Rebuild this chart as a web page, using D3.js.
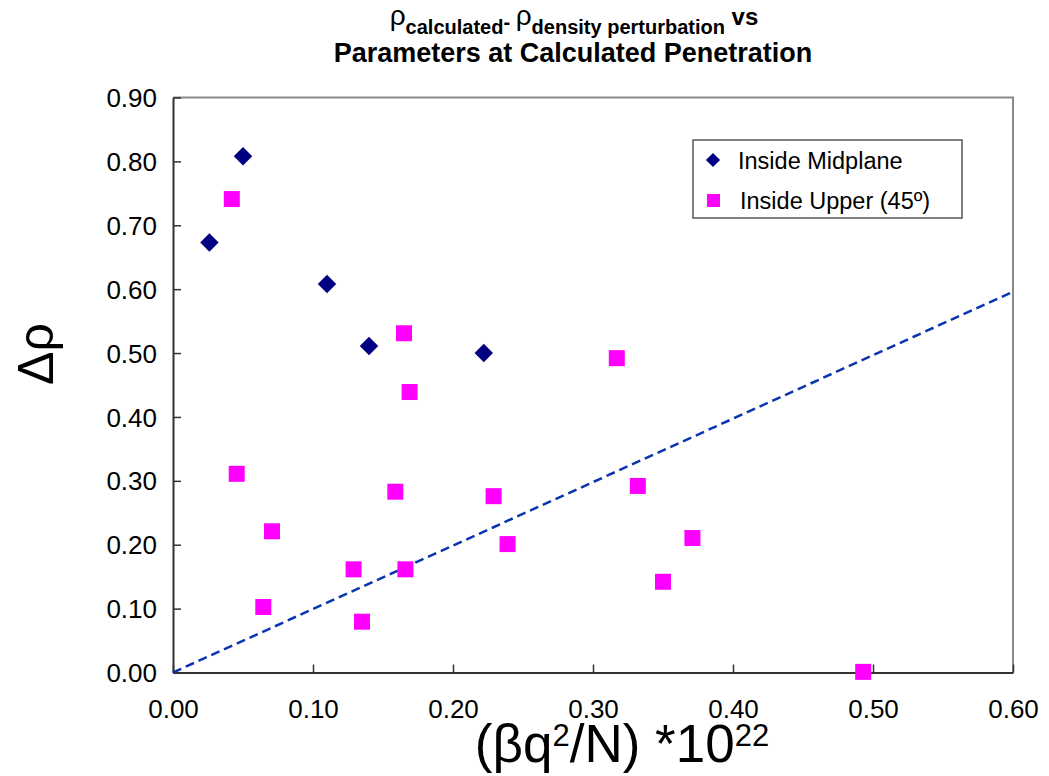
<!DOCTYPE html>
<html>
<head>
<meta charset="utf-8">
<script src="https://cdn.jsdelivr.net/npm/d3@7/dist/d3.min.js"></script>
<style>
  html, body { margin: 0; padding: 0; background: #fff; }
  svg { display: block; font-family: "Liberation Sans", Arial, Helvetica, sans-serif; }
</style>
</head>
<body>
<svg id="chart"></svg>
<script>
// Data
const midplaneX = [0.026, 0.050, 0.110, 0.140, 0.222];
const midplaneY = [0.673, 0.808, 0.608, 0.511, 0.500];

const upperX = [0.042, 0.0455, 0.0707, 0.0645, 0.129, 0.135, 0.1588, 0.165, 0.166, 0.169,
                0.229, 0.239, 0.317, 0.332, 0.350, 0.371, 0.493];
const upperY = [0.741, 0.311, 0.221, 0.1025, 0.1615, 0.0795, 0.283, 0.531, 0.1615, 0.439,
                0.276, 0.201, 0.492, 0.292, 0.142, 0.2105, 0.001];

// dashed reference line (end points)
const trendX = [0, 0.6];
const trendY = [0, 0.596];

const xTicks = [0, 0.1, 0.2, 0.3, 0.4, 0.5, 0.6];
const yTicks = [0, 0.1, 0.2, 0.3, 0.4, 0.5, 0.6, 0.7, 0.8, 0.9];

const seriesNames = ["Inside Midplane", "Inside Upper (45º)"];

const W = 1049, H = 776;
const margin = { left: 173, right: 36, top: 97.5, bottom: 103.5 };
const plotW = W - margin.left - margin.right;
const plotH = H - margin.top - margin.bottom;

const svg = d3.select("#chart").attr("width", W).attr("height", H);

const x = d3.scaleLinear().domain([0, 0.6]).range([0, plotW]);
const y = d3.scaleLinear().domain([0, 0.9]).range([plotH, 0]);

const g = svg.append("g").attr("transform", `translate(${margin.left},${margin.top})`);

// frame: top and right in grey, axes drawn on top later
g.append("path")
  .attr("d", `M0,0H${plotW}V${plotH}`)
  .attr("fill", "none")
  .attr("stroke", "#8a8a8a")
  .attr("stroke-width", 2);

// axes (ticks point inward)
const xAxis = d3.axisBottom(x).tickValues(xTicks).tickFormat(d3.format(".2f")).tickSizeInner(-8).tickSizeOuter(0).tickPadding(27);
const yAxis = d3.axisLeft(y).tickValues(yTicks).tickFormat(d3.format(".2f")).tickSizeInner(-8).tickSizeOuter(0).tickPadding(16);

const gx = g.append("g").attr("transform", `translate(0,${plotH})`).call(xAxis);
const gy = g.append("g").call(yAxis);

[gx, gy].forEach((ax) => {
  ax.select(".domain").attr("stroke", "#333").attr("stroke-width", 2);
  ax.selectAll(".tick line").attr("stroke", "#333").attr("stroke-width", 1.5);
  ax.selectAll(".tick text")
    .attr("fill", "#000")
    .style("font-size", "26px")
    .style("font-family", "'Liberation Sans', Arial, sans-serif");
});
gy.selectAll(".tick text").attr("dy", "0.35em");
gx.selectAll(".tick text").attr("dy", "0.71em");

// dashed line
const trend = trendX.map((v, i) => [v, trendY[i]]);
g.append("path")
  .datum(trend)
  .attr("d", d3.line().x((d) => x(d[0])).y((d) => y(d[1])))
  .attr("fill", "none")
  .attr("stroke", "#0a34b0")
  .attr("stroke-width", 2.5)
  .attr("stroke-dasharray", "9,5");

// markers
const diamond = d3.symbol().type(d3.symbolSquare).size(170);
const midplane = midplaneX.map((v, i) => ({ x: v, y: midplaneY[i] }));
const upper = upperX.map((v, i) => ({ x: v, y: upperY[i] }));

g.append("g")
  .selectAll("rect")
  .data(upper)
  .enter()
  .append("rect")
  .attr("x", (d) => x(d.x) - 8)
  .attr("y", (d) => y(d.y) - 8)
  .attr("width", 16)
  .attr("height", 16)
  .attr("fill", "#ff00ff");

g.append("g")
  .selectAll("path")
  .data(midplane)
  .enter()
  .append("path")
  .attr("d", diamond)
  .attr("transform", (d) => `translate(${x(d.x)},${y(d.y)}) rotate(45)`)
  .attr("fill", "#000080");

// legend
const lg = svg.append("g").attr("transform", "translate(693,140)");
lg.append("rect")
  .attr("width", 269)
  .attr("height", 78)
  .attr("fill", "#fff")
  .attr("stroke", "#555")
  .attr("stroke-width", 1.5);
lg.append("path")
  .attr("d", d3.symbol().type(d3.symbolSquare).size(100))
  .attr("transform", "translate(20,20) rotate(45)")
  .attr("fill", "#000080");
lg.append("rect")
  .attr("x", 14).attr("y", 54).attr("width", 13).attr("height", 13)
  .attr("fill", "#ff00ff");
lg.selectAll("text.leg")
  .data(seriesNames)
  .enter()
  .append("text")
  .attr("class", "leg")
  .attr("x", (d, i) => (i === 0 ? 45 : 47))
  .attr("y", (d, i) => (i === 0 ? 29 : 69))
  .style("font-size", "23.5px")
  .text((d) => d);

// title
const t1 = svg.append("text")
  .attr("x", 574)
  .attr("y", 25)
  .attr("text-anchor", "middle")
  .style("font-weight", "bold");
t1.append("tspan").style("font-size", "28px").style("font-weight", "normal").text("ρ");
t1.append("tspan").style("font-size", "20px").attr("dy", 9).text("calculated");
t1.append("tspan").style("font-size", "20px").attr("dy", -5).text("- ");
t1.append("tspan").style("font-size", "28px").style("font-weight", "normal").attr("dy", -4).text("ρ");
t1.append("tspan").style("font-size", "20px").attr("dy", 9).text("density perturbation");
t1.append("tspan").style("font-size", "24px").attr("dy", -9).text(" vs");

svg.append("text")
  .attr("x", 573)
  .attr("y", 62)
  .attr("text-anchor", "middle")
  .style("font-size", "27px")
  .style("font-weight", "bold")
  .text("Parameters at Calculated Penetration");

// axis titles
const xt = svg.append("text")
  .attr("x", 622)
  .attr("y", 762)
  .attr("text-anchor", "middle")
  .style("font-size", "53px");
xt.append("tspan").text("(βq");
xt.append("tspan").style("font-size", "31px").attr("dy", -16).text("2");
xt.append("tspan").attr("dy", 16).text("/N) *10");
xt.append("tspan").style("font-size", "31px").attr("dy", -16).text("22");

svg.append("text")
  .attr("transform", "translate(53,354) rotate(-90)")
  .attr("text-anchor", "middle")
  .style("font-size", "50px")
  .text("Δρ");
</script>
</body>
</html>
